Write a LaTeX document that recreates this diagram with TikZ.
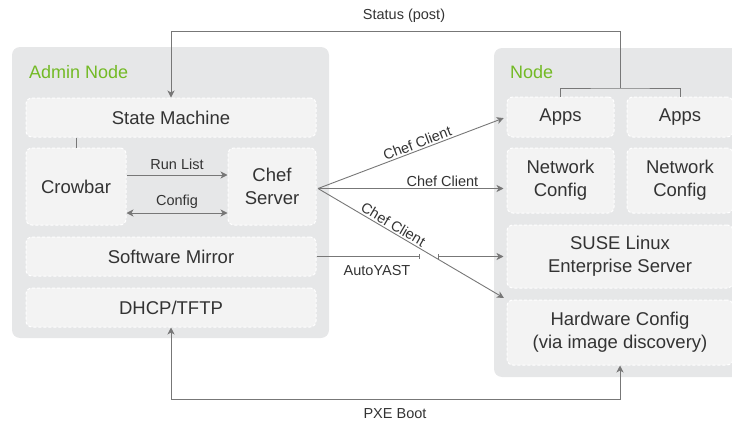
\documentclass[tikz,border=0pt]{standalone}
\usepackage{fontspec}
\setmainfont{Liberation Sans}
\usepackage{tikz}
\usetikzlibrary{positioning,calc}
\usetikzlibrary{arrows.meta}
\definecolor{outerbg}{HTML}{E6E7E8}
\definecolor{innerbg}{HTML}{F3F3F3}
\definecolor{txt}{HTML}{333333}
\definecolor{wire}{HTML}{777777}
\definecolor{susegreen}{HTML}{73BA25}

\begin{document}
\begin{tikzpicture}[x=1pt, y=-1pt,
    outer/.style={fill=outerbg, rounded corners=8pt},
    part/.style={fill=innerbg, draw=white, line width=1pt, dash pattern=on 3pt off 2pt,
        rounded corners=6pt, text=txt, align=center, inner sep=0pt,
        font=\fontsize{18.5}{23}\selectfont},
    title/.style={text=susegreen, anchor=west, inner sep=0pt, font=\fontsize{18}{20}\selectfont},
    lbl/.style={text=txt, inner sep=1.5pt, font=\fontsize{14.5}{16}\selectfont},
    tip/.style={Stealth[length=7pt, width=7pt, inset=2pt]},
    arr/.style={draw=wire, line width=0.9pt, -{Stealth[length=7pt, width=7pt, inset=2pt]}},
    wireline/.style={draw=wire, line width=0.9pt}]
    \useasboundingbox (0,0) rectangle (732,423);
    \clip (0,0) rectangle (732,423);

    % the two hosts
    \fill[outer] (12,47) rectangle (329,338);
    \fill[outer] (494,48) rectangle (745,377);
    \node[title] (admintitle) at (29,72) {Admin Node};
    \node[title] (nodetitle) at (510,72) {Node};

    % admin node parts
    \node[part, minimum width=290pt, minimum height=39pt] (sm) at (171,117.5) {State Machine};
    \node[part, minimum width=100pt, minimum height=77pt] (crowbar) at (76,186.5) {Crowbar};
    \node[part, minimum width=88pt, minimum height=77pt] (chef) at (272,186.5) {Chef\\Server};
    \node[part, minimum width=290pt, minimum height=39pt] (mirror) at (171,256.5) {Software Mirror};
    \node[part, minimum width=290pt, minimum height=39pt] (dhcp) at (171,307.5) {DHCP/TFTP};

    % node parts
    \node[part, minimum width=107pt, minimum height=40pt] (apps1) at (560.5,117) {Apps};
    \node[part, minimum width=106pt, minimum height=40pt] (apps2) at (680,117) {Apps};
    \node[part, minimum width=107pt, minimum height=65pt] (net1) at (560.5,180.5) {Network\\Config};
    \node[part, minimum width=106pt, minimum height=65pt] (net2) at (680,180.5) {Network\\Config};
    \node[part, minimum width=226pt, minimum height=63pt] (suse) at (620,256.5) {SUSE Linux\\Enterprise Server};
    \node[part, minimum width=226pt, minimum height=65pt] (hw) at (620,332.5) {Hardware Config\\(via image discovery)};

    % inside the admin node
    \draw[wireline] (sm.south -| crowbar.north) -- (crowbar.north);
    \draw[arr] ([yshift=11.5pt]crowbar.east) -- ([yshift=11.5pt]chef.west)
        node[lbl, midway, above=3pt] (runlist) {Run List};
    \draw[wireline, {Stealth[length=7pt, width=7pt, inset=2pt]}-{Stealth[length=7pt, width=7pt, inset=2pt]}]
        ([yshift=-26.5pt]crowbar.east) -- ([yshift=-26.5pt]chef.west)
        node[lbl, midway, above=3pt] (config) {Config};

    % status back to the state machine
    \coordinate (sj) at (620,88);
    \coordinate (stop) at (620,31);
    \draw[wireline] (apps1.north) |- (sj) -| (apps2.north);
    \draw[arr] (sj) -- (stop) -| (sm.north);
    \node[lbl] (status) at (404,16) {Status (post)};

    % chef client runs
    \coordinate (cc) at (318,188.5);
    \draw[arr, shorten >=3pt] (cc) -- (apps1.west)
        node[lbl, pos=0.54, above, sloped] (cc1) {Chef Client};
    \draw[arr, shorten >=3pt] (cc) -- (cc -| net1.west)
        node[lbl, pos=0.66, above] (cc2) {Chef Client};
    \draw[arr, shorten >=3pt] (cc) -- (hw.north west)
        node[lbl, pos=0.38, above, sloped] (cc3) {Chef Client};

    % autoyast
    \coordinate (ya1) at (420,256.5);
    \coordinate (ya2) at (438,256.5);
    \draw[wireline, -{Bar[width=5pt]}] (mirror.east) -- (ya1);
    \draw[wireline, {Bar[width=5pt]}-{Stealth[length=7pt, width=7pt, inset=2pt]}, shorten >=3pt] (ya2) -- (suse.west);
    \node[lbl] (autoyast) at (377,271) {AutoYAST};

    % pxe boot
    \coordinate (pxe) at (620,399);
    \draw[wireline, {Stealth[length=7pt, width=7pt, inset=2pt]}-{Stealth[length=7pt, width=7pt, inset=2pt]}]
        (hw.south) -- (pxe) -| (dhcp.south);
    \node[lbl] (pxeboot) at (395,414) {PXE Boot};
\end{tikzpicture}
\end{document}
